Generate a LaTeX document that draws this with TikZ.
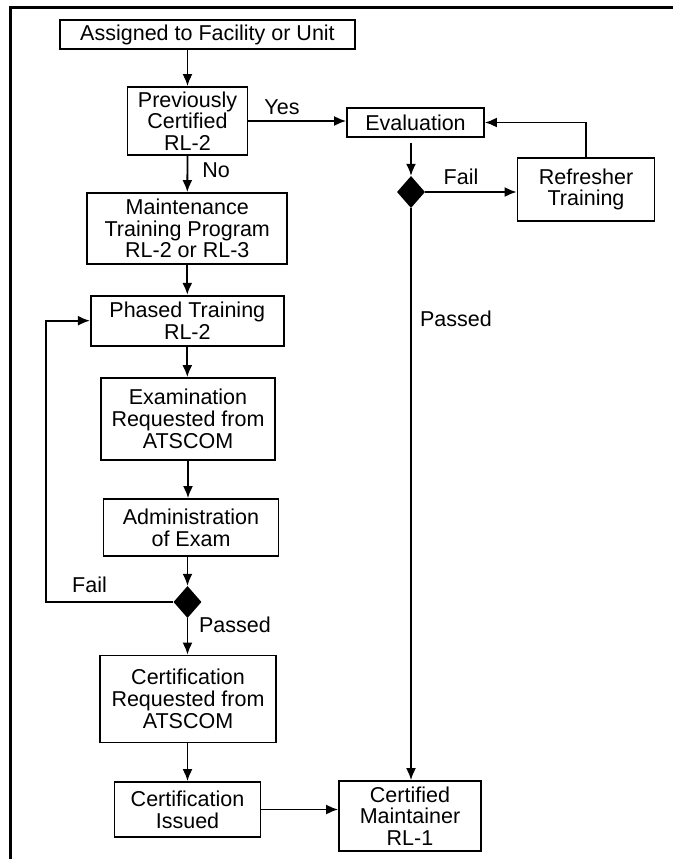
\documentclass[tikz,border=0pt]{standalone}
\usepackage{fontspec}
\setmainfont{Liberation Sans}
\usetikzlibrary{arrows.meta,shapes.geometric,calc}

\begin{document}
\begin{tikzpicture}[x=1pt, y=-1pt,
  box/.style={draw, line width=1.8pt, align=center, inner sep=0pt,
    font=\fontsize{21.5}{21.7}\selectfont},
  decision/.style={diamond, fill=black, inner sep=0pt,
    minimum width=28pt, minimum height=32pt},
  lbl/.style={inner sep=0pt, font=\fontsize{21.5}{21.7}\selectfont},
  flow/.style={line width=1.8pt, -{Latex[length=12pt,width=10pt]}}]
  \useasboundingbox (0,0) rectangle (673,859);
  % frame, only top and left edge
  \draw[line width=3pt] (673,8) -- (10,8) -- (10,859);

  % main column
  \node[box, minimum width=295pt, minimum height=29pt] (assigned) at (207.5,34.5) {Assigned to Facility or Unit};
  \node[box, minimum width=120pt, minimum height=68pt] (prev) at (187.5,121) {Previously\\Certified\\RL-2};
  \node[box, minimum width=200pt, minimum height=71pt] (maint) at (187.3,228.5) {Maintenance\\Training Program\\RL-2 or RL-3};
  \node[box, minimum width=193pt, minimum height=50pt] (phased) at (187.3,320.7) {Phased Training\\RL-2};
  \node[box, minimum width=174pt, minimum height=82pt] (exam) at (188,419) {Examination\\Requested from\\ATSCOM};
  \node[box, minimum width=175pt, minimum height=57pt] (admin) at (191,527.5) {Administration\\of Exam};
  \node[decision] (dia2) at (187.5,602) {};
  \node[box, minimum width=176pt, minimum height=87pt] (certreq) at (188,699) {Certification\\Requested from\\ATSCOM};
  \node[box, minimum width=146pt, minimum height=55pt] (certiss) at (187.5,809.5) {Certification\\Issued};

  % right side
  \node[box, minimum width=137pt, minimum height=29pt] (eval) at (415.5,122.5) {Evaluation};
  \node[decision] (dia1) at (411,192) {};
  \node[box, minimum width=137pt, minimum height=63pt] (refresh) at (586,189.5) {Refresher\\Training};
  \node[box, minimum width=142pt, minimum height=70pt] (certmaint) at (410,816) {Certified\\Maintainer\\RL-1};

  % labels
  \node[lbl] (lyes) at (282,107) {Yes};
  \node[lbl] (lno) at (216,170) {No};
  \node[lbl] (lfail1) at (461,177) {Fail};
  \node[lbl] (lpass1) at (456,319) {Passed};
  \node[lbl] (lfail2) at (89.5,585) {Fail};
  \node[lbl] (lpass2) at (235,625) {Passed};

  % connectors
  \draw[flow] (assigned.south -| prev.north) -- (prev.north);
  \draw[flow] (prev.south) -- (maint.north);
  \draw[flow] (maint.south) -- (phased.north);
  \draw[flow] (phased.south) -- (exam.north -| phased.south);
  \draw[flow] (exam.south) -- (exam.south |- admin.north);
  \draw[flow] (admin.south -| dia2.north) -- (dia2.north);
  \draw[flow] (dia2.south) -- (certreq.north -| dia2.south);
  \draw[flow] (certreq.south -| certiss.north) -- (certiss.north);
  \draw[flow] (certiss.east) -- (certiss.east -| certmaint.west);

  \coordinate (failturn) at (46,602);
  \draw[flow] (dia2.west) -- (failturn) |- (phased.west);

  \draw[flow] (prev.east) -- (prev.east -| eval.west);
  \draw[flow, shorten <=5pt] (eval.south -| dia1.north) -- (dia1.north);
  \draw[flow] (dia1.east) -- (dia1.east -| refresh.west);
  \draw[flow] (refresh.north) |- (eval.east);
  \draw[flow] (dia1.south) -- (dia1.south |- certmaint.north);
\end{tikzpicture}
\end{document}
